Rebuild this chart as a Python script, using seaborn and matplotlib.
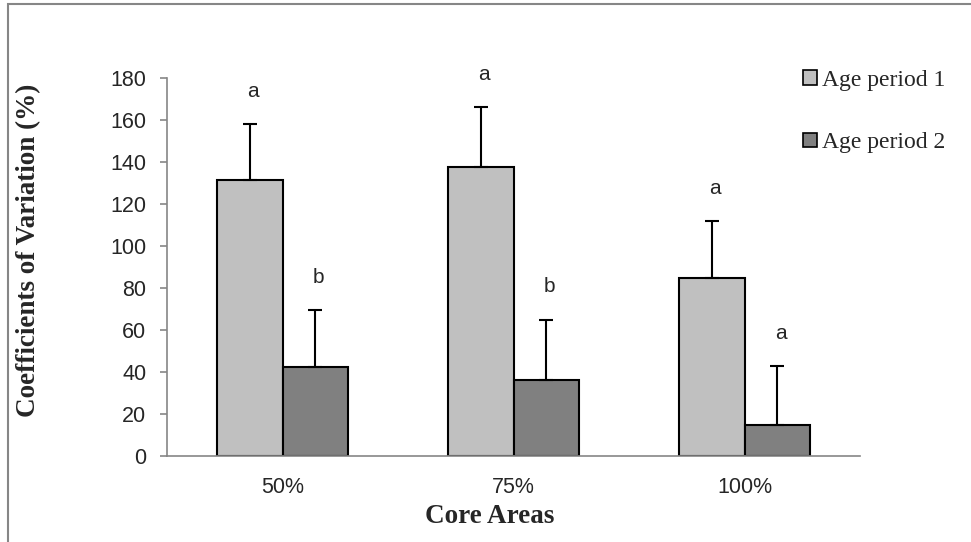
import seaborn as sns
import matplotlib.pyplot as plt
import matplotlib.patches as mpatches
import pandas as pd

core_areas = ['50%', '75%', '100%']
periods = ['Age period 1', 'Age period 2']
cv_period1 = [131.4, 137.5, 85.0]
cv_period2 = [42.4, 36.0, 15.0]
err_period1 = [26.6, 28.5, 27.0]
err_period2 = [27.0, 29.0, 28.0]
letters_period1 = ['a', 'a', 'a']
letters_period2 = ['b', 'b', 'a']

bar_colors = ['#C0C0C0', '#808080']
axis_grey = '#868686'

df = pd.DataFrame({
    'area': core_areas * 2,
    'period': [periods[0]] * 3 + [periods[1]] * 3,
    'cv': cv_period1 + cv_period2,
    'err': err_period1 + err_period2,
    'letter': letters_period1 + letters_period2,
})

sns.set_style('white')
plt.rcParams['font.family'] = ['Liberation Sans', 'DejaVu Sans']

fig = plt.figure(figsize=(9.71, 5.42), dpi=100)
ax = fig.add_axes([167 / 971, 1 - 456 / 542, 693 / 971, 378 / 542])

sns.barplot(
    data=df, x='area', y='cv', hue='period', order=core_areas,
    hue_order=periods, palette=bar_colors, width=0.57,
    edgecolor='black', linewidth=1.5, errorbar=None, legend=False, ax=ax
)

# bars come out grouped by hue, in category order
bars = [p for p in ax.patches if isinstance(p, mpatches.Rectangle)][:6]
for bar, (_, row) in zip(bars, df.iterrows()):
    xc = bar.get_x() + bar.get_width() / 2
    top = bar.get_height()
    ax.errorbar(xc, top, yerr=[[0], [row['err']]], color='black',
                lw=1.5, capsize=5, capthick=1.5, zorder=3)
    ax.text(xc + 0.015, top + row['err'] + 15.5, row['letter'],
            ha='center', va='center', fontsize=15)

ax.set_ylim(0, 180)
ax.set_xlim(-0.5, 2.5)
ax.set_yticks(range(0, 181, 20))
ax.set_xticks([-0.5, 0.5, 1.5, 2.5])
ax.set_xticklabels([])
ax.set_xticks([0, 1, 2], minor=True)
ax.set_xticklabels(core_areas, minor=True)
ax.tick_params(axis='x', which='major', direction='out', length=6,
               width=1.2, color=axis_grey)
ax.tick_params(axis='x', which='minor', length=0, pad=15, labelsize=15.5)
ax.tick_params(axis='y', direction='out', length=5, width=1.2,
               color=axis_grey, pad=10, labelsize=15.5, left=True)

sns.despine(ax=ax)
for side in ['left', 'bottom']:
    ax.spines[side].set_color(axis_grey)
    ax.spines[side].set_linewidth(1.2)

label_font = dict(family=['Liberation Serif', 'DejaVu Serif'],
                  fontsize=19.5, fontweight='bold')
ax.set_xlabel('Core Areas', **label_font)
ax.set_ylabel('Coefficients of Variation (%)', **label_font)
ax.xaxis.set_label_coords(0.466, -0.128)
ax.yaxis.set_label_coords(-0.182, 0.545)

handles = [mpatches.Patch(facecolor=c, edgecolor='black', linewidth=1.2)
           for c in bar_colors]
fig.legend(handles, periods, loc='upper left',
           bbox_to_anchor=(803 / 971, 1 - 70 / 542), frameon=False,
           prop={'family': ['Liberation Serif', 'DejaVu Serif'], 'size': 17},
           handlelength=0.6, handleheight=0.6, handletextpad=0.2,
           labelspacing=1.75, borderaxespad=0, borderpad=0)

fig.add_artist(mpatches.Rectangle((7.5 / 971, -0.1), 1.2, 1 - 4 / 542 + 0.1,
                                  transform=fig.transFigure, fill=False,
                                  edgecolor=axis_grey, linewidth=1.5))

fig.savefig('out.png', dpi=100)
